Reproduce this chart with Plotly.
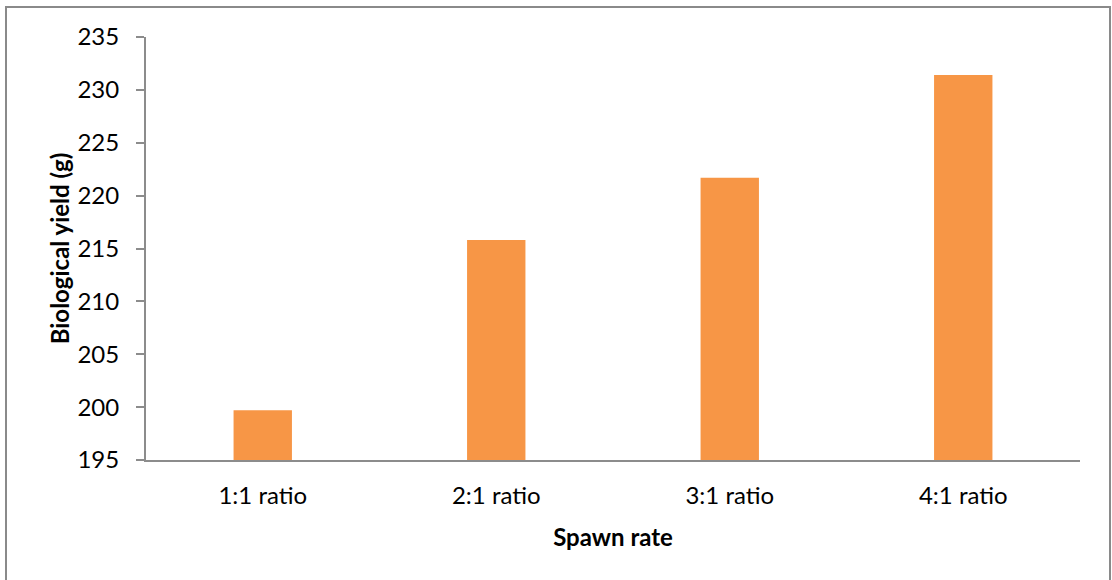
import plotly.graph_objects as go

categories = ["1:1 ratio", "2:1 ratio", "3:1 ratio", "4:1 ratio"]
yield_g = [199.7, 215.8, 221.7, 231.4]
y_ticks = [195, 200, 205, 210, 215, 220, 225, 230, 235]

FONT = "Lato, Open Sans, sans-serif"
AXIS_GREY = "#8c8c8c"

fig = go.Figure(
    go.Bar(
        x=categories,
        y=yield_g,
        marker=dict(color="#F79646", line=dict(width=0)),
        width=0.25,
    )
)

W, H = 1112, 580
L, R, T, B = 146, 32, 37, 120
pw, ph = W - L - R, H - T - B


def px_x(p):
    return (p - L) / pw


def px_y(p):
    return (H - B - p) / ph


fig.update_layout(
    width=W,
    height=H,
    margin=dict(l=L, r=R, t=T, b=B),
    paper_bgcolor="white",
    plot_bgcolor="white",
    showlegend=False,
    font=dict(family=FONT, size=24, color="#000000"),
    xaxis=dict(
        showline=True,
        linecolor=AXIS_GREY,
        linewidth=2,
        ticks="",
        showgrid=False,
        tickfont=dict(size=24),
        ticklabelstandoff=13,
        title=dict(text="<b>Spawn rate</b>", font=dict(size=24), standoff=21),
    ),
    yaxis=dict(
        range=[195, 235],
        tickvals=y_ticks,
        showline=True,
        linecolor=AXIS_GREY,
        linewidth=2,
        ticks="outside",
        ticklen=8,
        tickwidth=2,
        tickcolor=AXIS_GREY,
        showgrid=False,
        zeroline=False,
        tickfont=dict(size=24),
        ticklabelstandoff=12,
        title=dict(text="<b>Biological yield (g)</b>", font=dict(size=24), standoff=1),
    ),
    shapes=[
        dict(
            type="rect",
            xref="paper",
            yref="paper",
            x0=px_x(6),
            x1=px_x(1110),
            y0=px_y(600),
            y1=px_y(7),
            line=dict(color="#8a8a8a", width=2),
            fillcolor="rgba(0,0,0,0)",
            layer="below",
        )
    ],
)

fig.write_html("out.html")
